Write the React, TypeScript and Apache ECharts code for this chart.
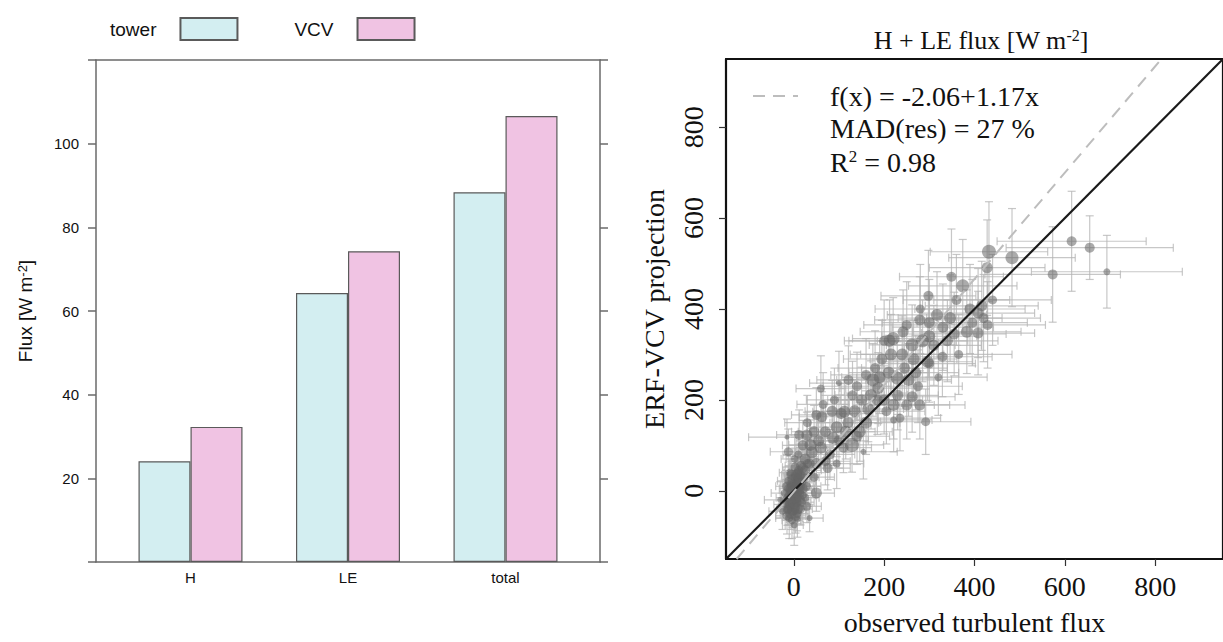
import React, { useEffect, useRef } from "react";
import * as echarts from "echarts";

// ---------- Left panel: bar chart ----------
const categories = ["H", "LE", "total"];
const towerFlux = [24.1, 64.3, 88.4];
const vcvFlux = [32.3, 74.3, 106.6];

// ---------- Right panel: scatter with error bars ----------
const obsX = [
  -12, -8, -5, -2, 0, 3, 5, 8, 10, -15, -10, -3, 2, 6, 12, 15, -6, -10, -14, 4,
  9, 14, 18, 20, -4, 1, 7, -18, 11, 16, -2, 5, 0, -7, 13, 22, 25, 30, -8, 3,
  -20, 8, -1, 6, 17, 26, 28, -12, 2, 10, 50, 29, 35, -25, -30,
  -5, 8, -10, 4, 15, -16, 20, -3, 7, 12,
  -6, 3, -9, 10, -4, 6, 14, -1, 20, -14,
  12, 29, 37, -12, 50, 62, 87, 75, 50, 40, 60, 70, 95, 100, 110, 112, 121, 100, 129, 146,
  154, 120, 135, 140, 85, 65, 30, 20, 45, 80, 105, 160, 150, 130, 165, -15,
  55, 35, 90, 115, 70, 25, 45, 95, 60, 140,
  171, 175, 187, 200, 210, 221, 221, 229, 250, 254, 262, 279, 292, 195, 212, 220, 242, 262, 279, 296,
  240, 270, 285, 300, 180, 230, 205, 265, 310, 190,
  215, 245, 160, 235, 275, 200, 250, 300, 320, 185,
  317, 346, 383, 408, 408, 429, 329, 298, 349, 374, 390, 416, 432, 483, 428, 360, 330, 280, 340, 395,
  355, 420, 365, 300, 440,
  573, 615, 655, 693,
];
const projY = [
  -40, -30, -20, -10, 0, 5, 12, 20, 25, -55, -60, -45, -35, -25, -5, 10, 15, 5, -15, 30,
  40, 35, 20, -10, -65, -75, -50, -30, 45, 55, 25, -5, -28, -8, 2, 30, 45, 60, 40, 52,
  -5, -62, 10, -15, -25, -15, 10, 22, 70, 80, -5, -34, -60, -45, -20,
  35, -40, -35, -55, -40, 10, 50, -2, 8, 28,
  -50, -15, -22, 15, 5, 35, -20, -40, 5, -42,
  123, 123, 101, 86, 167, 163, 116, 50, 60, 85, 95, 130, 140, 110, 95, 174, 244, 237, 101, 130,
  86, 150, 175, 120, 175, 190, 150, 100, 130, 80, 170, 150, 200, 210, 180, 118,
  110, 60, 200, 130, 65, 70, 30, 60, 225, 230,
  211, 244, 226, 200, 260, 189, 156, 248, 189, 244, 207, 189, 152, 290, 330, 335, 350, 321, 376, 284,
  300, 260, 330, 340, 270, 210, 175, 290, 320, 250,
  300, 270, 255, 160, 230, 330, 365, 280, 250, 200,
  387, 380, 350, 391, 347, 365, 295, 429, 471, 451, 400, 407, 526, 513, 491, 420, 360, 400, 330, 370,
  345, 380, 300, 370, 420,
  476, 549, 535, 482,
];
const errX = [
  25, 20, 22, 18, 20, 25, 22, 28, 30, 25, 30, 20, 24, 26, 30, 28, 20, 22, 25, 25,
  30, 32, 30, 28, 22, 20, 25, 26, 35, 35, 22, 20, 18, 20, 26, 34, 36, 38, 24, 28,
  30, 24, 20, 22, 28, 30, 32, 24, 30, 34, 40, 32, 30, 30, 35,
  22, 20, 24, 22, 26, 24, 30, 18, 20, 26,
  20, 18, 20, 24, 18, 24, 24, 18, 26, 24,
  50, 45, 48, 40, 55, 50, 60, 50, 45, 42, 55, 60, 60, 65, 62, 70, 70, 65, 70, 72,
  75, 68, 70, 72, 60, 58, 50, 45, 50, 55, 62, 75, 75, 70, 78, 85,
  50, 45, 62, 65, 55, 42, 45, 60, 55, 75,
  80, 80, 85, 85, 88, 90, 85, 90, 95, 95, 95, 100, 100, 85, 90, 90, 95, 95, 100, 100,
  92, 95, 100, 105, 82, 90, 85, 96, 105, 84,
  90, 95, 78, 90, 98, 88, 95, 102, 108, 82,
  110, 115, 120, 125, 125, 128, 110, 105, 115, 120, 122, 125, 130, 140, 128, 118, 112, 100, 112, 122,
  115, 126, 118, 104, 130,
  150, 165, 185, 167,
];
const errY = [
  35, 30, 28, 25, 30, 32, 28, 35, 40, 40, 45, 35, 30, 34, 36, 38, 30, 28, 30, 40,
  42, 40, 35, 32, 40, 45, 38, 34, 45, 48, 30, 26, 28, 24, 30, 40, 44, 50, 36, 42,
  30, 40, 26, 28, 34, 36, 38, 32, 48, 50, 40, 36, 30, 40, 40,
  30, 32, 30, 38, 35, 28, 42, 22, 24, 34,
  35, 25, 28, 30, 24, 36, 30, 32, 30, 34,
  55, 50, 55, 50, 60, 55, 60, 48, 50, 52, 55, 60, 65, 60, 55, 70, 75, 70, 60, 65,
  60, 65, 70, 62, 68, 70, 60, 55, 58, 55, 66, 70, 72, 75, 72, 40,
  55, 50, 70, 60, 52, 50, 45, 55, 72, 75,
  75, 80, 78, 75, 82, 75, 70, 80, 75, 80, 78, 75, 72, 85, 90, 90, 92, 88, 95, 85,
  85, 82, 90, 90, 82, 76, 72, 85, 88, 80,
  88, 84, 80, 72, 80, 90, 95, 85, 84, 76,
  95, 95, 92, 98, 92, 95, 88, 100, 105, 102, 98, 98, 110, 108, 105, 100, 95, 98, 90, 95,
  92, 96, 88, 95, 100,
  105, 110, 70, 80,
];
const dotSize = [
  9, 10, 11, 12, 12, 11, 10, 11, 10, 9, 8, 10, 11, 10, 10, 9, 9, 10, 9, 10,
  9, 10, 9, 8, 8, 7, 9, 8, 9, 10, 11, 12, 12, 11, 10, 9, 10, 9, 8, 9,
  8, 7, 12, 11, 9, 8, 9, 8, 8, 8, 11, 9, 6, 7, 6,
  10, 11, 10, 10, 9, 9, 10, 12, 12, 11,
  11, 12, 11, 11, 12, 11, 10, 12, 10, 9,
  10, 11, 12, 9, 10, 11, 12, 10, 11, 12, 12, 11, 12, 11, 10, 12, 10, 6, 14, 12,
  6, 11, 12, 11, 11, 9, 9, 10, 11, 10, 11, 12, 11, 10, 12, 5,
  11, 10, 9, 12, 10, 11, 9, 8, 8, 10,
  12, 13, 12, 11, 12, 12, 7, 13, 11, 12, 11, 11, 9, 11, 12, 13, 11, 13, 11, 12,
  12, 11, 13, 12, 10, 11, 10, 12, 11, 12,
  12, 11, 10, 9, 10, 10, 10, 10, 8, 11,
  12, 12, 12, 11, 11, 10, 10, 10, 10, 13, 11, 11, 14, 13, 11, 10, 11, 9, 11, 10,
  11, 10, 9, 11, 9,
  10, 10, 10, 7,
];

const fitIntercept = -2.06;
const fitSlope = 1.17;
const madRes = 27;
const rSquared = 0.98;
const scatterTicks = [0, 200, 400, 600, 800];
const scatterMin = -150;
const scatterMax = 950;

const SANS = "'Liberation Sans', Arial, Helvetica, sans-serif";
const SERIF = "'Liberation Serif', 'Times New Roman', serif";

export default function App() {
  const ref = useRef<HTMLDivElement>(null);

  useEffect(() => {
    if (!ref.current) return;
    const chart = echarts.init(ref.current, null, { renderer: "svg" });

    const barTower = categories.map((_, i) => [i + 1, towerFlux[i]]);
    const barVcv = categories.map((_, i) => [i + 1, vcvFlux[i]]);
    const errData = obsX.map((x, i) => [x, projY[i], errX[i], errY[i]]);
    const dotData = obsX.map((x, i) => [x, projY[i], dotSize[i]]);
    const fitName = `f(x) = ${fitIntercept}+${fitSlope}x`;
    const fitData = [
      [(scatterMin - fitIntercept) / fitSlope, scatterMin],
      [(scatterMax - fitIntercept) / fitSlope, scatterMax],
    ];

    const frameGray = "#6a6a6a";

    const option: any = {
      animation: false,
      backgroundColor: "#ffffff",
      title: {
        text: "H + LE flux [W m{sup|-2}]",
        left: 976,
        top: 22,
        textAlign: "center",
        textStyle: {
          fontFamily: SERIF,
          fontSize: 26,
          fontWeight: "normal",
          color: "#111",
          rich: {
            sup: { fontFamily: SERIF, fontSize: 16, color: "#111", verticalAlign: "top" },
          },
        },
      },
      legend: [
        {
          data: ["tower", "VCV"],
          left: 105,
          top: 12,
          orient: "horizontal",
          align: "right",
          icon: "rect",
          itemWidth: 57,
          itemHeight: 22,
          itemGap: 56,
          textStyle: {
            fontFamily: SANS,
            fontSize: 19,
            color: "#111",
            padding: [0, 19, 0, 0],
          },
          selectedMode: false,
        },
        {
          data: [fitName],
          left: 747,
          top: 77,
          itemWidth: 45,
          itemHeight: 22,
          itemStyle: { opacity: 0 },
          lineStyle: { color: "#bdbdbd", width: 2, type: [12, 8] },
          textStyle: {
            fontFamily: SERIF,
            fontSize: 28,
            color: "#111",
            padding: [0, 0, 0, 27],
          },
          selectedMode: false,
        },
      ],
      grid: [
        { left: 96, top: 60, width: 504, height: 502 },
        { left: 726, top: 59, width: 500, height: 500 },
      ],
      xAxis: [
        {
          gridIndex: 0,
          type: "value",
          min: 0.4,
          max: 3.6,
          position: "bottom",
          axisLine: { show: true, lineStyle: { color: frameGray, width: 1.5 } },
          axisTick: { show: false },
          splitLine: { show: false },
          axisLabel: {
            customValues: [1, 2, 3],
            formatter: (v: number) => categories[Math.round(v) - 1] ?? "",
            fontFamily: SANS,
            fontSize: 15,
            color: "#111",
            margin: 8,
          },
        },
        {
          gridIndex: 0,
          type: "value",
          min: 0.4,
          max: 3.6,
          position: "top",
          axisLine: { show: true, onZero: false, lineStyle: { color: frameGray, width: 1.5 } },
          axisTick: { show: false },
          axisLabel: { show: false },
          splitLine: { show: false },
        },
        {
          gridIndex: 1,
          type: "value",
          min: scatterMin,
          max: scatterMax,
          position: "bottom",
          axisLine: { show: true, onZero: false, lineStyle: { color: "#111", width: 2.2 } },
          axisTick: { show: true, customValues: scatterTicks, length: 7, lineStyle: { color: "#333", width: 1.2 } },
          splitLine: { show: false },
          axisLabel: {
            customValues: scatterTicks,
            fontFamily: SERIF,
            fontSize: 28,
            color: "#111",
            margin: 13,
          },
          name: "observed turbulent flux",
          nameLocation: "middle",
          nameGap: 49,
          nameTextStyle: { fontFamily: SERIF, fontSize: 28, color: "#111" },
        },
        {
          gridIndex: 1,
          type: "value",
          min: scatterMin,
          max: scatterMax,
          position: "top",
          axisLine: { show: true, onZero: false, lineStyle: { color: "#111", width: 2.2 } },
          axisTick: { show: false },
          axisLabel: { show: false },
          splitLine: { show: false },
        },
      ],
      yAxis: [
        {
          gridIndex: 0,
          type: "value",
          min: 0,
          max: 120,
          interval: 20,
          position: "left",
          axisLine: { show: true, lineStyle: { color: frameGray, width: 1.5 } },
          axisTick: { show: true, length: 8, lineStyle: { color: frameGray, width: 1.5 } },
          splitLine: { show: false },
          axisLabel: {
            formatter: (v: number) => (v === 0 || v === 120 ? "" : String(v)),
            fontFamily: SANS,
            fontSize: 15,
            color: "#111",
            margin: 17,
          },
          name: "Flux [W m{sup|-2}]",
          nameLocation: "middle",
          nameRotate: 90,
          nameGap: 61,
          nameTextStyle: {
            fontFamily: SANS,
            fontSize: 19,
            color: "#111",
            rich: { sup: { fontFamily: SANS, fontSize: 13, color: "#111", verticalAlign: "top" } },
          },
        },
        {
          gridIndex: 0,
          type: "value",
          min: 0,
          max: 120,
          interval: 20,
          position: "right",
          axisLine: { show: true, lineStyle: { color: frameGray, width: 1.5 } },
          axisTick: { show: true, length: 8, lineStyle: { color: frameGray, width: 1.5 } },
          splitLine: { show: false },
          axisLabel: { show: false },
        },
        {
          gridIndex: 1,
          type: "value",
          min: scatterMin,
          max: scatterMax,
          position: "left",
          axisLine: { show: true, onZero: false, lineStyle: { color: "#111", width: 2.2 } },
          axisTick: { show: true, customValues: scatterTicks, length: 7, lineStyle: { color: "#333", width: 1.2 } },
          splitLine: { show: false },
          axisLabel: {
            customValues: scatterTicks,
            rotate: 90,
            fontFamily: SERIF,
            fontSize: 28,
            color: "#111",
            margin: 19,
          },
          name: "ERF-VCV projection",
          nameLocation: "middle",
          nameRotate: 90,
          nameGap: 58,
          nameTextStyle: { fontFamily: SERIF, fontSize: 28, color: "#111" },
        },
        {
          gridIndex: 1,
          type: "value",
          min: scatterMin,
          max: scatterMax,
          position: "right",
          axisLine: { show: true, onZero: false, lineStyle: { color: "#111", width: 2.2 } },
          axisTick: { show: false },
          axisLabel: { show: false },
          splitLine: { show: false },
        },
      ],
      graphic: [
        {
          type: "text",
          x: 830,
          y: 128,
          style: {
            text: `MAD(res) = ${madRes} %`,
            font: `28px ${SERIF}`,
            fill: "#111",
            verticalAlign: "middle",
          },
        },
        {
          type: "text",
          x: 830,
          y: 162,
          style: {
            text: `R{sup|2} = ${rSquared}`,
            font: `28px ${SERIF}`,
            fill: "#111",
            verticalAlign: "middle",
            rich: { sup: { font: `17px ${SERIF}`, fill: "#111", verticalAlign: "top" } },
          },
        },
      ],
      series: [
        {
          name: "tower",
          type: "bar",
          xAxisIndex: 0,
          yAxisIndex: 0,
          data: barTower,
          barWidth: 52,
          barGap: "0%",
          itemStyle: { color: "#d3eef1", borderColor: "#5a5a5a", borderWidth: 1.2 },
        },
        {
          name: "VCV",
          type: "bar",
          xAxisIndex: 0,
          yAxisIndex: 0,
          data: barVcv,
          barWidth: 52,
          barGap: "0%",
          itemStyle: { color: "#f0c3e3", borderColor: "#5a5a5a", borderWidth: 1.2 },
        },
        {
          name: "errors",
          type: "custom",
          xAxisIndex: 2,
          yAxisIndex: 2,
          clip: true,
          z: 1,
          data: errData,
          encode: { x: 0, y: 1 },
          renderItem: (_params: any, api: any) => {
            const x = api.value(0);
            const y = api.value(1);
            const ex = api.value(2);
            const ey = api.value(3);
            const l = api.coord([x - ex, y]);
            const r = api.coord([x + ex, y]);
            const b = api.coord([x, y - ey]);
            const t = api.coord([x, y + ey]);
            const c = 4;
            const style = { stroke: "rgba(180,180,180,0.75)", lineWidth: 1.2 };
            return {
              type: "group",
              children: [
                { type: "line", shape: { x1: l[0], y1: l[1], x2: r[0], y2: r[1] }, style },
                { type: "line", shape: { x1: l[0], y1: l[1] - c, x2: l[0], y2: l[1] + c }, style },
                { type: "line", shape: { x1: r[0], y1: r[1] - c, x2: r[0], y2: r[1] + c }, style },
                { type: "line", shape: { x1: b[0], y1: b[1], x2: t[0], y2: t[1] }, style },
                { type: "line", shape: { x1: b[0] - c, y1: b[1], x2: b[0] + c, y2: b[1] }, style },
                { type: "line", shape: { x1: t[0] - c, y1: t[1], x2: t[0] + c, y2: t[1] }, style },
              ],
            };
          },
        },
        {
          name: "points",
          type: "scatter",
          xAxisIndex: 2,
          yAxisIndex: 2,
          z: 2,
          data: dotData,
          symbolSize: (v: number[]) => v[2],
          itemStyle: { color: "rgba(100,100,100,0.68)" },
        },
        {
          name: "one-to-one",
          type: "line",
          xAxisIndex: 2,
          yAxisIndex: 2,
          z: 3,
          symbol: "none",
          clip: true,
          data: [
            [scatterMin, scatterMin],
            [scatterMax, scatterMax],
          ],
          lineStyle: { color: "#1a1a1a", width: 2.2 },
        },
        {
          name: fitName,
          type: "line",
          xAxisIndex: 2,
          yAxisIndex: 2,
          z: 3,
          symbol: "none",
          clip: true,
          data: fitData,
          itemStyle: { color: "#bdbdbd" },
          lineStyle: { color: "#bdbdbd", width: 2, type: [12, 8] },
        },
      ],
    };

    chart.setOption(option);
    return () => chart.dispose();
  }, []);

  return (
    <div
      ref={ref}
      style={{ position: "fixed", left: 0, top: 0, width: 1223, height: 642, background: "#fff" }}
    />
  );
}
